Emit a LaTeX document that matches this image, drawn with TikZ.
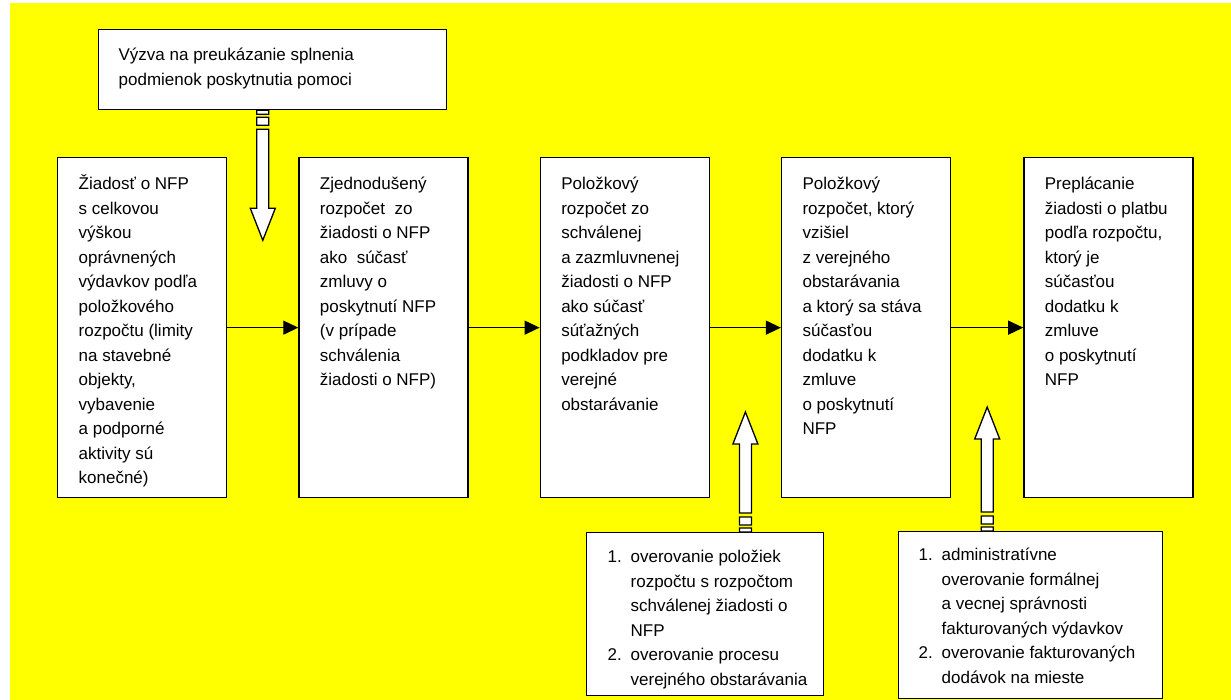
\documentclass[tikz,border=0pt]{standalone}
\usepackage{fontspec}
\setmainfont{Liberation Sans}
\usepackage{xcolor}
\usepackage{tikz}
\usetikzlibrary{arrows.meta,positioning,calc}
\definecolor{bgyellow}{RGB}{255,255,0}
\tikzset{
  stepbox/.style ={draw,fill=white,line width=1.3pt,anchor=north west,
                   inner xsep=6pt,inner ysep=15pt,
                   font=\fontsize{17}{24.5}\selectfont},
  callbox/.style ={stepbox,inner ysep=14pt},
  chkbox/.style  ={stepbox,inner ysep=13pt},
  arr/.style     ={-{Triangle[length=15pt,width=14pt]},line width=1.2pt},
  blk/.style     ={draw,fill=white,line width=1.3pt,line join=miter},
}
% text of a box: height, width, left indent
\newcommand{\cellbody}[4]{\parbox[t][#1][t]{#2}{\raggedright\leftskip=#3\strut #4}}
\newcommand{\numitem}[1]{\makebox[23pt][l]{#1}}
\newcommand{\hangln}{\hspace*{23pt}}
% hollow block arrow: start, tip, direction (1 up, -1 down)
\newcommand{\blockarr}[3]{%
  \path[blk] let \p1=#1, \p2=#2 in
    ({\x1-6pt},{\y1}) rectangle ({\x1+6pt},{\y1+#3*4pt})
    ({\x1-6pt},{\y1+#3*7pt}) rectangle ({\x1+6pt},{\y1+#3*15pt})
    ({\x1-6pt},{\y1+#3*19pt}) -- ({\x1-6pt},{\y2-#3*32pt})
    -- ({\x1-12.5pt},{\y2-#3*32pt}) -- ({\x2},{\y2})
    -- ({\x1+12.5pt},{\y2-#3*32pt}) -- ({\x1+6pt},{\y2-#3*32pt})
    -- ({\x1+6pt},{\y1+#3*19pt}) -- cycle;}

\begin{document}
\begin{tikzpicture}[x=1pt,y=-1pt]
\useasboundingbox (0,0) rectangle (1231,700);
\fill[bgyellow] (10,3) rectangle (1231,700);

% --- process steps ---------------------------------------------------------
\node[stepbox] (b1) at (57,157)
  {\cellbody{310pt}{157pt}{15pt}{Žiadosť o NFP\\ s celkovou\\ výškou\\ oprávnených\\
   výdavkov podľa\\ položkového\\ rozpočtu (limity\\ na stavebné\\ objekty,\\
   vybavenie\\ a podporné\\ aktivity sú\\ konečné)}};
\node[stepbox,right=71pt of b1] (b2)
  {\cellbody{310pt}{157pt}{15pt}{Zjednodušený\\ rozpočet~ zo\\ žiadosti o NFP\\
   ako~ súčasť\\ zmluvy o\\ poskytnutí NFP\\ (v prípade\\ schválenia\\ žiadosti o NFP)}};
\node[stepbox,right=71pt of b2] (b3)
  {\cellbody{310pt}{157pt}{15pt}{Položkový\\ rozpočet zo\\ schválenej\\ a zazmluvnenej\\
   žiadosti o NFP\\ ako súčasť\\ súťažných\\ podkladov pre\\ verejné\\ obstarávanie}};
\node[stepbox,right=71pt of b3] (b4)
  {\cellbody{310pt}{157pt}{15pt}{Položkový\\ rozpočet, ktorý\\ vzišiel\\ z verejného\\
   obstarávania\\ a ktorý sa stáva\\ súčasťou\\ dodatku k\\ zmluve\\ o poskytnutí\\ NFP}};
\node[stepbox,right=72pt of b4] (b5)
  {\cellbody{310pt}{157pt}{15pt}{Preplácanie\\ žiadosti o platbu\\ podľa rozpočtu,\\
   ktorý je\\ súčasťou\\ dodatku k\\ zmluve\\ o poskytnutí\\ NFP}};

\draw[arr] (b1) -- (b2);
\draw[arr] (b2) -- (b3);
\draw[arr] (b3) -- (b4);
\draw[arr] (b4) -- (b5);

% --- call and checks -------------------------------------------------------
\node[callbox] (call) at (98,29)
  {\cellbody{52pt}{336pt}{14pt}{Výzva na preukázanie splnenia\\ podmienok poskytnutia pomoci}};
\node[chkbox] (chk1) at (586,532)
  {\cellbody{137pt}{225pt}{15pt}{\numitem{1.}overovanie položiek\\
   \hangln rozpočtu s rozpočtom\\ \hangln schválenej žiadosti o\\ \hangln NFP\\
   \numitem{2.}overovanie procesu\\ \hangln verejného obstarávania}};
\node[chkbox,inner ysep=12pt] (chk2) at (898,531)
  {\cellbody{143pt}{252pt}{14pt}{\numitem{1.}administratívne\\
   \hangln overovanie formálnej\\ \hangln a vecnej správnosti\\
   \hangln fakturovaných výdavkov\\ \numitem{2.}overovanie fakturovaných\\
   \hangln dodávok na mieste}};

% --- block arrows ----------------------------------------------------------
\coordinate (g12) at ($(b1.east)!0.5!(b2.west)$);
\coordinate (g34) at ($(b3.east)!0.5!(b4.west)$);
\coordinate (g45) at ($(b4.east)!0.5!(b5.west)$);
\coordinate (s12) at (call.south -| g12);
\coordinate (s34) at (chk1.north -| g34);
\coordinate (s45) at (chk2.north -| g45);
\coordinate (t12) at ($(s12)+(0,130)$);
\coordinate (t34) at ($(s34)+(0,-120)$);
\coordinate (t45) at ($(s45)+(0,-124)$);
\blockarr{(s12)}{(t12)}{-1}
\blockarr{(s34)}{(t34)}{1}
\blockarr{(s45)}{(t45)}{1}

\end{tikzpicture}
\end{document}
